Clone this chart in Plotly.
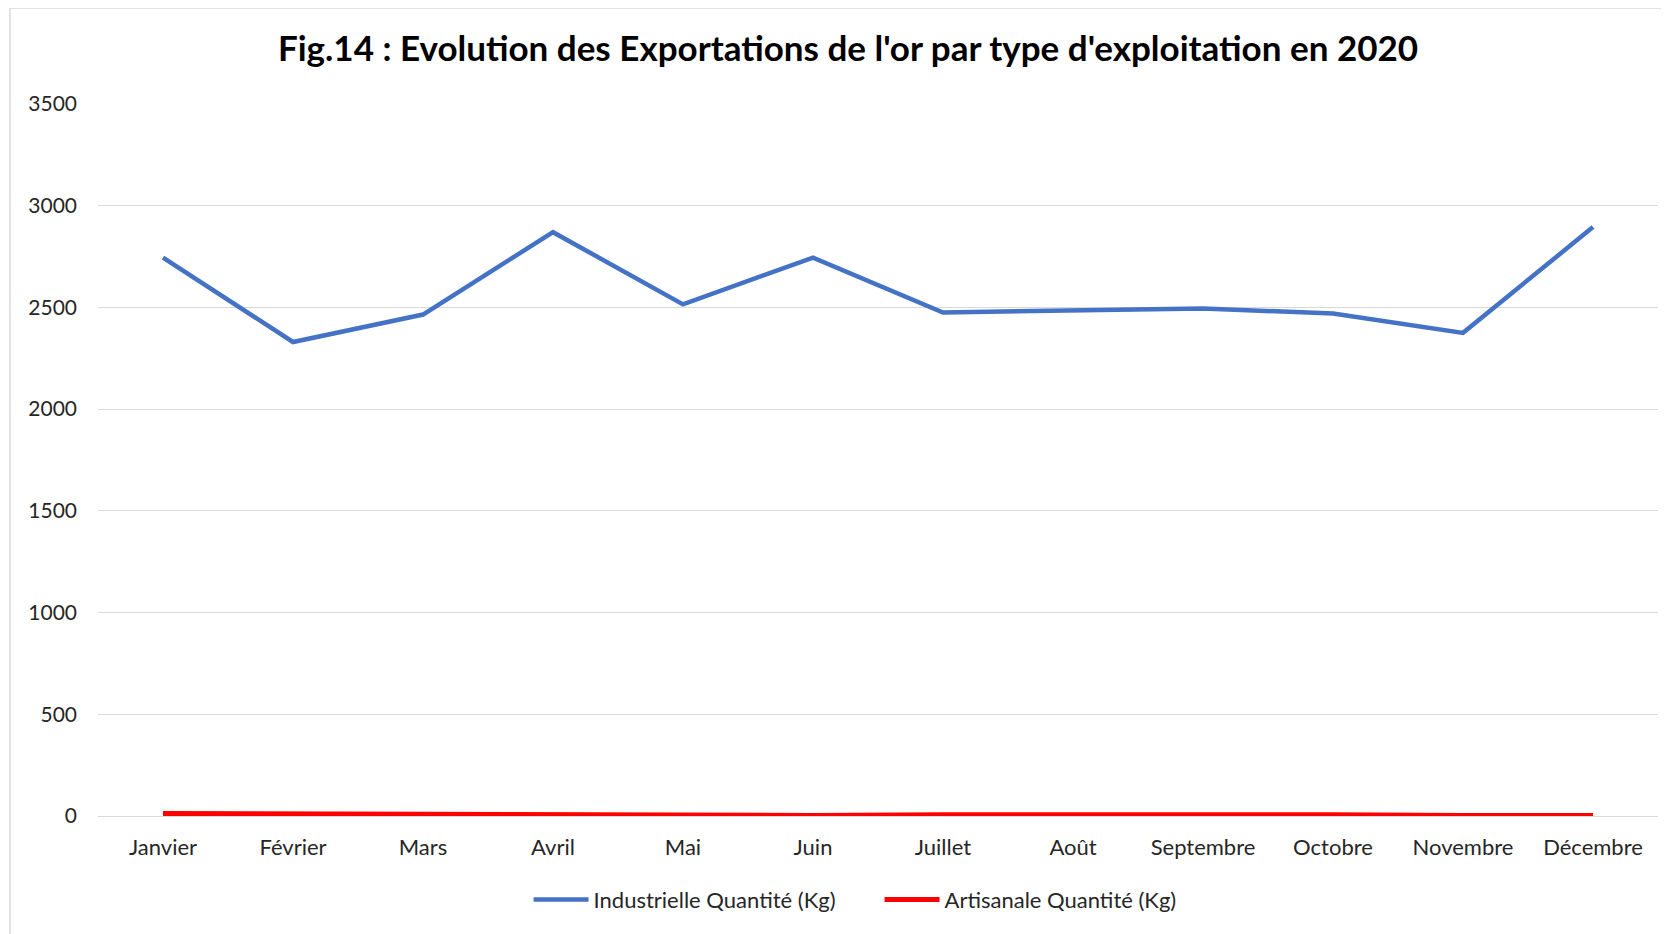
import plotly.graph_objects as go

months = ["Janvier", "Février", "Mars", "Avril", "Mai", "Juin", "Juillet",
          "Août", "Septembre", "Octobre", "Novembre", "Décembre"]
industrielle = [2745, 2330, 2465, 2870, 2515, 2745, 2475, 2485, 2495, 2470, 2375, 2895]
artisanale = [12, 10, 5, 3, 2, 3, 6, 8, 7, 6, 3, 2]
y_ticks = [0, 500, 1000, 1500, 2000, 2500, 3000, 3500]

FONT = "Lato"

# page body has an 8px margin; figure sized so the plot area lands where the reference has it
W, H = 1661, 926
L, R, T, B = 90, 11, 96, 118
PW, PH = W - L - R, H - T - B

fig = go.Figure()
fig.add_trace(go.Scatter(x=months, y=industrielle, mode="lines",
                         name="Industrielle Quantité (Kg)",
                         line=dict(color="#4472C4", width=4.5)))
fig.add_trace(go.Scatter(x=months, y=artisanale, mode="lines",
                         name="Artisanale Quantité (Kg)",
                         line=dict(color="#FF0000", width=5)))

fig.update_layout(
    width=W, height=H,
    paper_bgcolor="white", plot_bgcolor="white",
    margin=dict(l=L, r=R, t=T, b=B),
    title=dict(text="<b>Fig.14 : Evolution des Exportations de l'or par type d'exploitation en 2020</b>",
               x=840 / W, xanchor="center", xref="container", y=(H - 41) / H, yanchor="middle",
               font=dict(family=FONT, size=35, color="#000000")),
    font=dict(family=FONT, size=20, color="#262626"),
    showlegend=True,
    legend=dict(orientation="h", x=0.501, xanchor="center", y=-0.088, yanchor="top",
                font=dict(family=FONT, size=22, color="#262626"),
                itemwidth=55, tracegroupgap=0, entrywidth=281, entrywidthmode="pixels"),
    xaxis=dict(type="category", range=[-0.5, 11.5], showgrid=False,
               showline=False, zeroline=False, ticks="", ticklabelstandoff=16,
               tickfont=dict(family=FONT, size=22, color="#262626")),
    yaxis=dict(range=[0, 3500], tickvals=y_ticks, showgrid=True,
               gridcolor="#d9d9d9", gridwidth=1.3, zeroline=True,
               zerolinecolor="#d9d9d9", zerolinewidth=1.3, showline=False,
               ticks="", ticklabelstandoff=20,
               tickfont=dict(family=FONT, size=21, color="#262626")),
    shapes=[
        dict(type="line", xref="paper", yref="paper", x0=(2 - L) / PW, x1=(2 - L) / PW,
             y0=(PH + T - 0) / PH, y1=-0.2, line=dict(color="#d9d9d9", width=1.5)),
        dict(type="line", xref="paper", yref="paper", x0=(2 - L) / PW, x1=1.02,
             y0=(PH + T - 0) / PH, y1=(PH + T - 0) / PH, line=dict(color="#d9d9d9", width=1.5)),
    ],
)

fig.write_html("out.html")
